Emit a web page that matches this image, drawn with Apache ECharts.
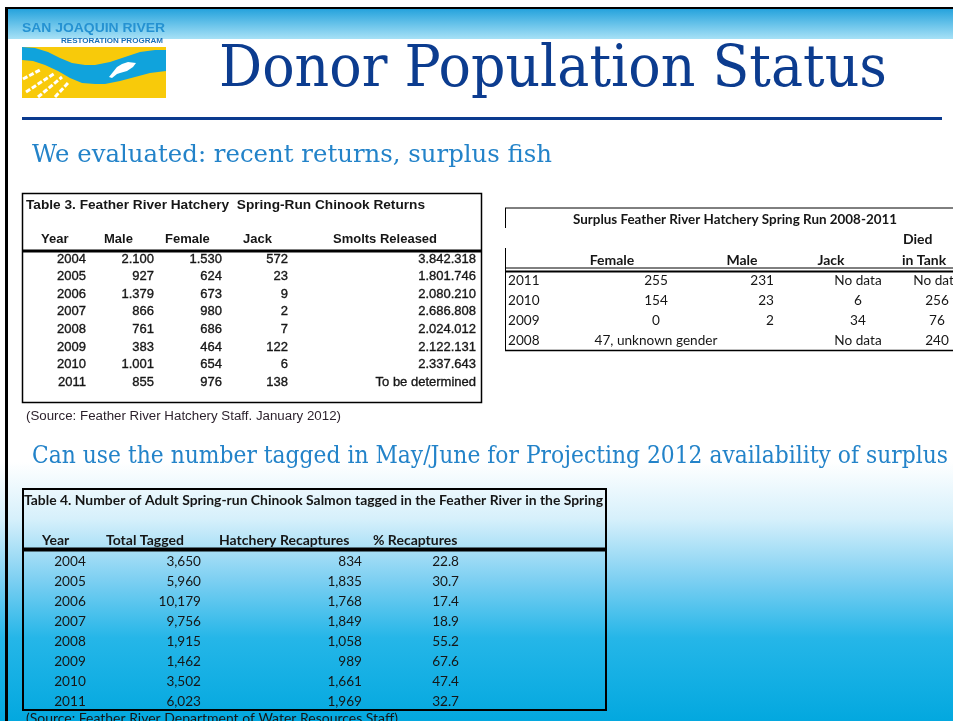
<!DOCTYPE html>
<html>
<head>
<meta charset="utf-8">
<title>Donor Population Status</title>
<script src="https://cdn.jsdelivr.net/npm/echarts@6/dist/echarts.min.js"></script>
<style>
  html, body { margin: 0; padding: 0; background: #fff; }
  #chart { width: 953px; height: 721px; }
</style>
</head>
<body>
<div id="chart"></div>
<script>
// Table 3. Feather River Hatchery Spring-Run Chinook Returns
const t3Years = ['2004', '2005', '2006', '2007', '2008', '2009', '2010', '2011']
const t3Male = [2100, 927, 1379, 866, 761, 383, 1001, 855]
const t3Female = [1530, 624, 673, 980, 686, 464, 654, 976]
const t3Jack = [572, 23, 9, 2, 7, 122, 6, 138]
const t3Smolts = [3842318, 1801746, 2080210, 2686808, 2024012, 2122131, 2337643, null]
const t3Headers = ['Year', 'Male', 'Female', 'Jack', 'Smolts Released']

// Surplus Feather River Hatchery Spring Run 2008-2011
const surplusYears = ['2011', '2010', '2009', '2008']
const surplusFemale = [255, 154, 0, '47, unknown gender']
const surplusMale = [231, 23, 2, '']
const surplusJack = ['No data', 6, 34, 'No data']
const surplusDied = ['No data', 256, 76, 240]
const surplusHeaders = ['Female', 'Male', 'Jack', 'in Tank']

// Table 4. Adult spring-run Chinook tagged in the Feather River
const t4Years = ['2004', '2005', '2006', '2007', '2008', '2009', '2010', '2011']
const t4Tagged = [3650, 5960, 10179, 9756, 1915, 1462, 3502, 6023]
const t4Recaptures = [834, 1835, 1768, 1849, 1058, 989, 1661, 1969]
const t4Percent = [22.8, 30.7, 17.4, 18.9, 55.2, 67.6, 47.4, 32.7]
const t4Headers = ['Year', 'Total Tagged', 'Hatchery Recaptures', '% Recaptures']

const fonts = {
  serif: '"DejaVu Serif", "Liberation Serif", serif',
  arial: '"Liberation Sans", Arial, sans-serif',
  calibri: 'Lato, "Open Sans", sans-serif'
}
const colors = {
  navy: '#0c3c8f',
  subtitle: '#2383c9',
  ink: '#161616'
}

const groupDigits = (n, sep) => String(n).replace(/\B(?=(\d{3})+(?!\d))/g, sep)
const dotNum = n => (n == null ? 'To be determined' : groupDigits(n, '.'))
const commaNum = n => groupDigits(n, ',')

const measureCtx = document.createElement('canvas').getContext('2d')
const fitScale = (text, font, width) => {
  measureCtx.font = font
  return width / measureCtx.measureText(text).width
}

// plain text element; when width is given the text is stretched to it
const label = (text, x, y, font, fill, align = 'left', width) => ({
  type: 'text',
  x,
  y,
  scaleX: width ? fitScale(text, font, width) : 1,
  z: 10,
  style: { text, font, fill, align, verticalAlign: 'middle' }
})

const rect = (x, y, width, height, fill, z = 5) => ({
  type: 'rect',
  shape: { x, y, width, height },
  style: { fill },
  z
})

const hline = (x1, x2, y, lineWidth) => ({
  type: 'line',
  shape: { x1, y1: y, x2, y2: y },
  style: { stroke: '#000', lineWidth },
  z: 8
})

const vline = (x, y1, y2, lineWidth) => ({
  type: 'line',
  shape: { x1: x, y1, x2: x, y2 },
  style: { stroke: '#000', lineWidth },
  z: 8
})

// column layout, x is measured from the left edge of each table grid
const t3Cols = [
  { x: 64, align: 'right', text: i => t3Years[i] },
  { x: 132, align: 'right', text: i => dotNum(t3Male[i]) },
  { x: 200, align: 'right', text: i => dotNum(t3Female[i]) },
  { x: 266, align: 'right', text: i => dotNum(t3Jack[i]) },
  { x: 454, align: 'right', text: i => dotNum(t3Smolts[i]) }
]
const surplusCols = [
  { x: 3, align: 'left', text: i => surplusYears[i] },
  { x: 151, align: 'center', text: i => String(surplusFemale[i]) },
  { x: 269, align: 'right', text: i => String(surplusMale[i]) },
  { x: 353, align: 'center', text: i => String(surplusJack[i]) },
  { x: 432, align: 'center', text: i => String(surplusDied[i]) }
]
const t4Cols = [
  { x: 48, align: 'center', text: i => t4Years[i] },
  { x: 179, align: 'right', text: i => commaNum(t4Tagged[i]) },
  { x: 340, align: 'right', text: i => commaNum(t4Recaptures[i]) },
  { x: 437, align: 'right', text: i => t4Percent[i].toFixed(1) }
]

const grids = [
  { left: 22, top: 250.2, width: 460, height: 140.8 },
  { left: 505, top: 271, width: 448, height: 80 },
  { left: 22, top: 552, width: 584, height: 160 }
]
const rowLabels = [t3Years, surplusYears, t4Years]

const tableSeries = (gridIndex, cols, font, heavy) => ({
  type: 'custom',
  xAxisIndex: gridIndex,
  yAxisIndex: gridIndex,
  silent: true,
  z: 10,
  data: rowLabels[gridIndex].map(year => [0, year]),
  renderItem: (params, api) => {
    const i = params.dataIndex
    const y = api.coord([0, api.value(1)])[1]
    return {
      type: 'group',
      children: cols.map(c => ({
        type: 'text',
        x: api.coord([c.x, api.value(1)])[0],
        y,
        style: {
          text: c.text(i),
          font,
          fill: colors.ink,
          stroke: heavy ? colors.ink : null,
          lineWidth: heavy ? 0.35 : 0,
          align: c.align,
          verticalAlign: 'middle'
        }
      }))
    }
  }
})

const t3Font = '13px ' + fonts.arial
const t3Bold = 'bold 13px ' + fonts.arial
const calFont = '13.6px ' + fonts.calibri
const calBold = 'bold 14px ' + fonts.calibri

// logo shapes (river band, fish, white furrows)
const riverPoints = [
  [22, 47], [35, 48], [48, 52], [60, 58], [72, 63], [85, 65], [95, 65], [110, 62], [125, 57],
  [140, 52], [155, 50], [166, 50], [166, 71], [150, 73], [135, 77], [120, 81], [105, 84],
  [95, 84], [82, 83], [70, 78], [58, 71], [45, 65], [33, 61], [22, 60]
]
const fishPoints = [
  [109, 77], [113, 72], [117, 67], [122, 64], [128, 62], [136, 63], [133, 67], [127, 71],
  [120, 73], [117, 74], [112, 78]
]
const furrows = [
  [[23, 79], [40, 70]],
  [[26, 92], [55, 73]],
  [[38, 97], [62, 77]],
  [[55, 97], [68, 83]]
]

const graphics = [
  // slide background and frame
  {
    type: 'rect',
    shape: { x: 0, y: 462, width: 953, height: 259 },
    style: {
      fill: new echarts.graphic.LinearGradient(0, 0, 0, 1, [
        { offset: 0, color: '#ffffff' },
        { offset: 0.22, color: '#d6f0fb' },
        { offset: 0.45, color: '#7fd0f2' },
        { offset: 0.68, color: '#25b6e8' },
        { offset: 1, color: '#03a8df' }
      ])
    },
    z: 1
  },
  {
    type: 'rect',
    shape: { x: 8, y: 9, width: 945, height: 30 },
    style: {
      fill: new echarts.graphic.LinearGradient(0, 0, 0, 1, [
        { offset: 0, color: '#26a3dd' },
        { offset: 1, color: '#a7e1f6' }
      ])
    },
    z: 2
  },
  rect(5, 7, 948, 2, '#000', 3),
  rect(5, 7, 3, 714, '#000', 3),

  // logo
  label('SAN JOAQUIN RIVER', 22, 28.5, 'bold 13px ' + fonts.arial, '#2592d2', 'left', 143),
  label('RESTORATION PROGRAM', 61, 41, 'bold 7px ' + fonts.arial, '#1a6fb8', 'left', 102),
  rect(22, 47, 144, 51, '#f8ca0a', 4),
  { type: 'polygon', shape: { points: riverPoints }, style: { fill: '#10a3dc' }, z: 5 },
  { type: 'polygon', shape: { points: fishPoints }, style: { fill: '#ffffff' }, z: 6 },
  ...furrows.map(([a, b]) => ({
    type: 'line',
    shape: { x1: a[0], y1: a[1], x2: b[0], y2: b[1] },
    style: { stroke: '#ffffff', lineWidth: 3, lineDash: [5, 2] },
    z: 6
  })),

  // heading
  label('Donor Population Status', 219, 71, '57px ' + fonts.serif, colors.navy, 'left', 668),
  rect(22, 117, 920, 3, '#0a3a8e', 5),
  label('We evaluated: recent returns, surplus fish', 32, 155.5, '25px ' + fonts.serif, colors.subtitle, 'left', 520),
  label('Can use the number tagged in May/June for Projecting 2012 availability of surplus', 32, 456.5, '25px ' + fonts.serif, colors.subtitle, 'left', 916),

  // table 3 frame
  {
    type: 'rect',
    shape: { x: 22.5, y: 193.5, width: 459, height: 209 },
    style: { fill: '#fff', stroke: '#000', lineWidth: 1.5 },
    z: 4
  },
  label('Table 3. Feather River Hatchery  Spring-Run Chinook Returns', 26, 205, t3Bold, colors.ink, 'left', 399),
  ...t3Headers.map((h, k) => label(h, [41, 104, 165, 243, 333][k], 239, t3Bold, colors.ink)),
  rect(22, 249.5, 460, 3, '#000', 8),
  label('(Source: Feather River Hatchery Staff. January 2012)', 26, 417, '12.5px ' + fonts.arial, '#2a1f2a', 'left', 315),

  // surplus table rules
  hline(505, 953, 208, 1),
  vline(505.5, 208, 228, 1),
  vline(505.5, 248, 350, 1),
  label('Surplus Feather River Hatchery Spring Run 2008-2011', 735, 219, calBold, colors.ink, 'center', 324),
  label('Died', 903, 239, calBold, colors.ink),
  ...surplusHeaders.map((h, k) =>
    label(h, [612, 742, 831, 902][k], 260, calBold, colors.ink, k < 3 ? 'center' : 'left')),
  hline(505, 953, 268, 1),
  hline(505, 953, 271.5, 2),
  hline(505, 953, 350.5, 1.5),

  // table 4 frame
  {
    type: 'rect',
    shape: { x: 23, y: 489, width: 583, height: 221 },
    style: { fill: 'transparent', stroke: '#000', lineWidth: 2 },
    z: 8
  },
  label('Table 4. Number of Adult Spring-run Chinook Salmon tagged in the Feather River in the Spring', 24, 500, calBold, colors.ink, 'left', 579),
  ...t4Headers.map((h, k) => label(h, [42, 106, 219, 373][k], 540, calBold, colors.ink)),
  rect(22, 547.5, 584, 4, '#000', 8),
  label('(Source: Feather River Department of Water Resources Staff)', 26, 719, calFont, colors.ink, 'left', 372)
]

const chart = echarts.init(document.getElementById('chart'))

chart.setOption({
  backgroundColor: '#ffffff',
  animation: false,
  grid: grids.map(g => ({ ...g, containLabel: false })),
  xAxis: grids.map((g, k) => ({
    type: 'value',
    gridIndex: k,
    min: 0,
    max: g.width,
    show: false
  })),
  yAxis: grids.map((g, k) => ({
    type: 'category',
    gridIndex: k,
    data: rowLabels[k],
    inverse: true,
    show: false
  })),
  graphic: { elements: graphics },
  series: [
    tableSeries(0, t3Cols, t3Font, true),
    tableSeries(1, surplusCols, calFont, false),
    tableSeries(2, t4Cols, calFont, false)
  ]
})

window.addEventListener('resize', () => chart.resize())
</script>
</body>
</html>
